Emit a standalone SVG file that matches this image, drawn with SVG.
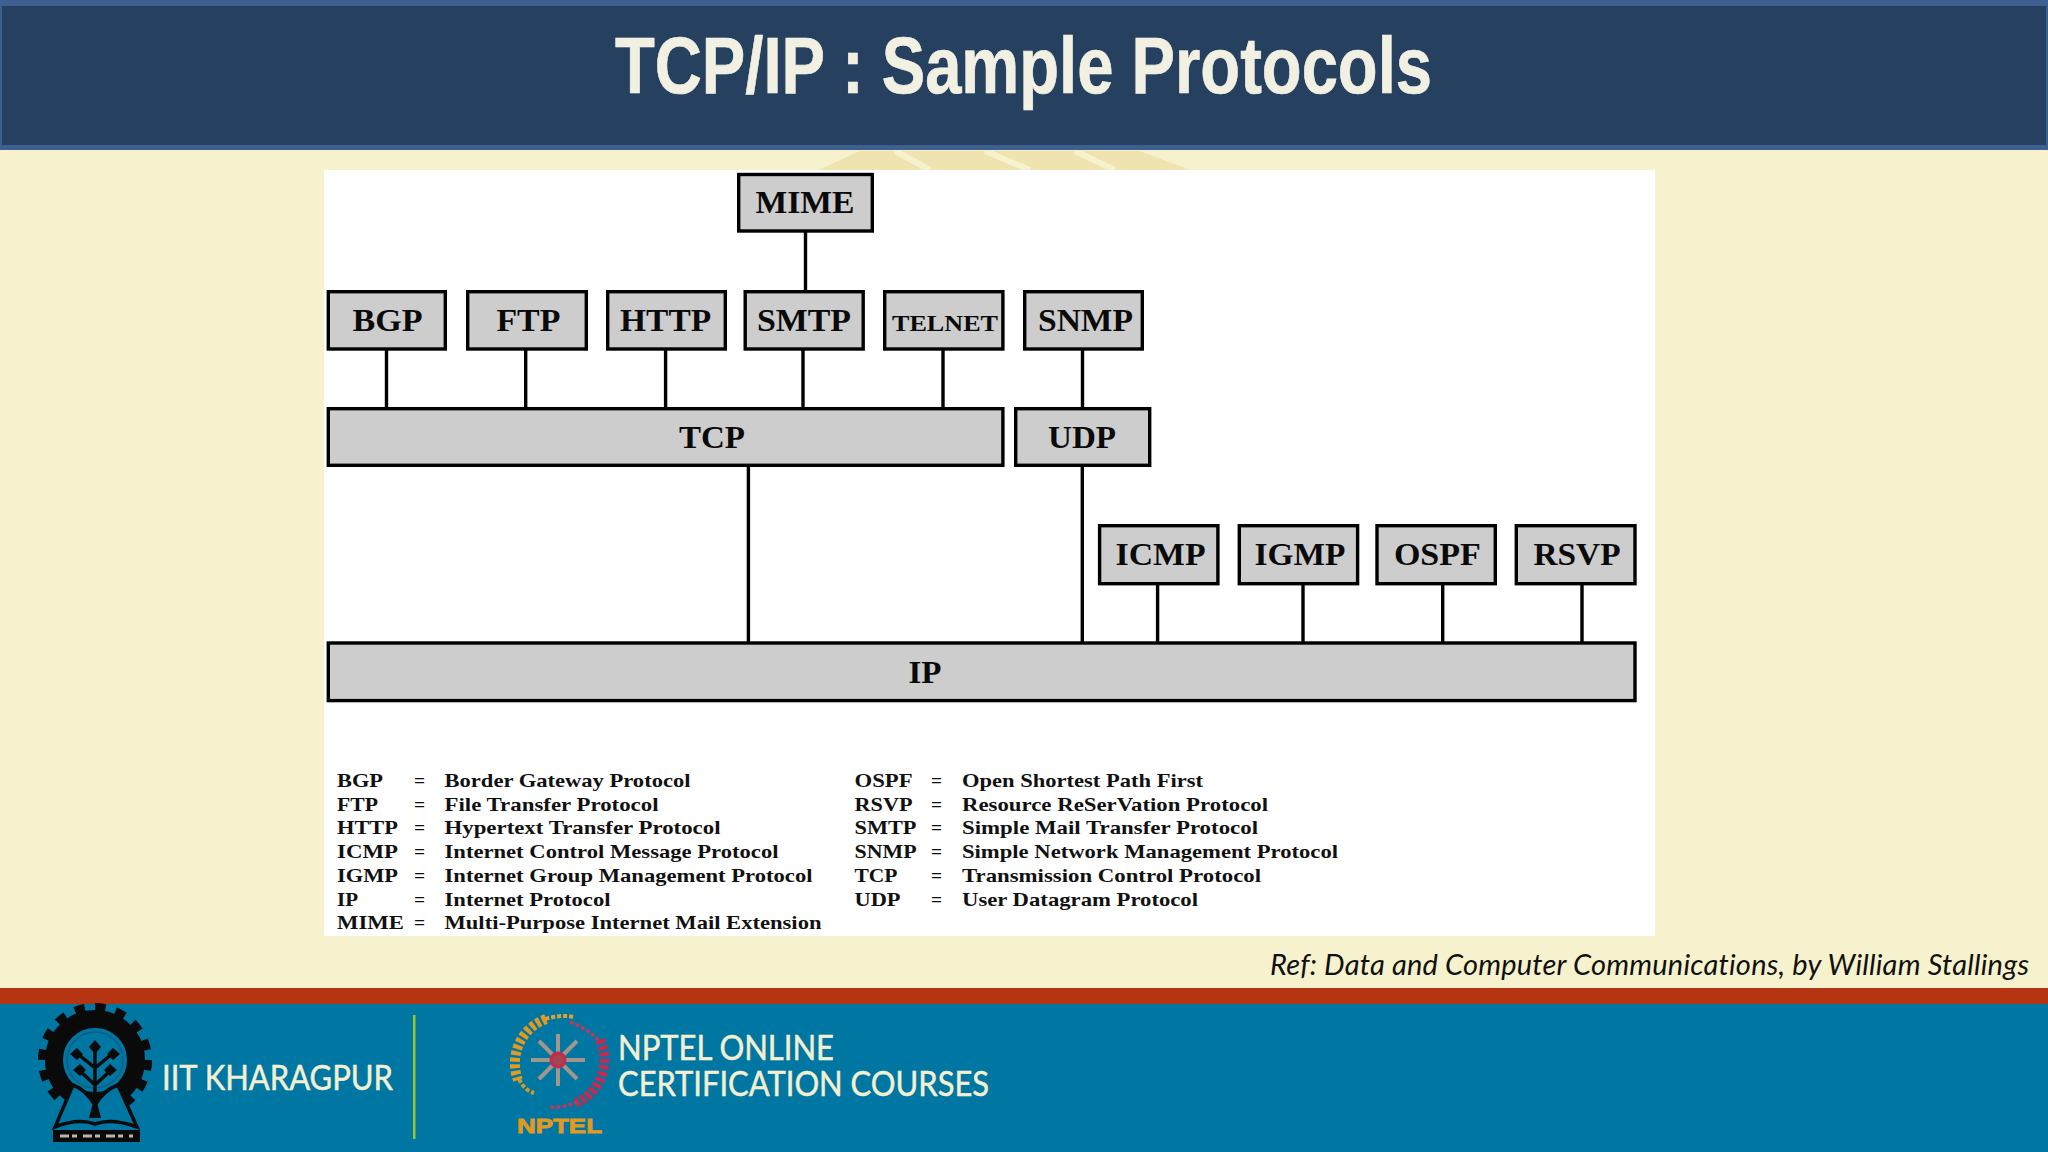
<svg xmlns="http://www.w3.org/2000/svg" width="2048" height="1152" viewBox="0 0 2048 1152">
<style>
.b{fill:#cdcdcd;stroke:#000;stroke-width:3.4}
.c{stroke:#000;stroke-width:3.4;fill:none}
.n{font-family:"Liberation Serif",serif;font-weight:700;font-size:31px;text-anchor:middle;fill:#0a0a0a}
.l{font-family:"Liberation Serif",serif;font-weight:700;font-size:19.5px;fill:#111}
.f{font-family:Lato,"Open Sans",sans-serif;font-size:35px;fill:#f3f0d2;stroke:#f3f0d2;stroke-width:.5}
</style>
<rect width="2048" height="1152" fill="#f6f2cd"/>
<g id="watermark">
<polygon points="818,170 860,151 1140,151 1190,170" fill="#efe3b0"/>
<path d="M895 151L930 170M985 151L1030 170M1075 151L1115 170" stroke="#f6f2cd" stroke-width="6" fill="none"/>
</g>
<rect width="2048" height="150" fill="#3d6090"/>
<rect x="2" y="6" width="2044" height="139" fill="#26405f"/>
<text x="615" y="93" font-family="Liberation Sans,sans-serif" font-weight="700" font-size="80" fill="#f2f0e2" stroke="#f2f0e2" stroke-width=".7" textLength="817" lengthAdjust="spacingAndGlyphs">TCP/IP : Sample Protocols</text>
<rect x="324" y="170" width="1331" height="766" fill="#fff"/>
<g id="connectors">
<path class="c" d="M805.5 232V291M386.5 350V408M525.7 350V408M665.6 350V408M803 350V408M943 350V408M1082.5 350V408M748.4 466V643M1082.3 466V643M1157.6 584V643M1303 584V643M1442.7 584V643M1582 584V643"/>
</g>
<g id="MIME"><rect class="b" x="738.7" y="174.5" width="133.6" height="56.5"/><text class="n" x="805" y="213" textLength="99" lengthAdjust="spacingAndGlyphs">MIME</text></g>
<g id="BGP"><rect class="b" x="328.3" y="291.7" width="117" height="57.3"/><text class="n" x="387.5" y="331" textLength="70" lengthAdjust="spacingAndGlyphs">BGP</text></g>
<g id="FTP"><rect class="b" x="467.7" y="291.7" width="118.6" height="57.3"/><text class="n" x="528.4" y="331" textLength="64" lengthAdjust="spacingAndGlyphs">FTP</text></g>
<g id="HTTP"><rect class="b" x="607.7" y="291.7" width="117.6" height="57.3"/><text class="n" x="665.6" y="331" textLength="91" lengthAdjust="spacingAndGlyphs">HTTP</text></g>
<g id="SMTP"><rect class="b" x="745.2" y="291.7" width="118" height="57.3"/><text class="n" x="804" y="331" textLength="94" lengthAdjust="spacingAndGlyphs">SMTP</text></g>
<g id="TELNET"><rect class="b" x="884.7" y="291.7" width="118.2" height="57.3"/><text class="n" x="945" y="331" style="font-size:24px" textLength="106" lengthAdjust="spacingAndGlyphs">TELNET</text></g>
<g id="SNMP"><rect class="b" x="1024.7" y="291.7" width="117.6" height="57.3"/><text class="n" x="1085.5" y="331" textLength="95" lengthAdjust="spacingAndGlyphs">SNMP</text></g>
<g id="TCP"><rect class="b" x="328.3" y="408.7" width="674.6" height="56.6"/><text class="n" x="712" y="448" textLength="66" lengthAdjust="spacingAndGlyphs">TCP</text></g>
<g id="UDP"><rect class="b" x="1015.7" y="408.7" width="134" height="56.6"/><text class="n" x="1082" y="448" textLength="68" lengthAdjust="spacingAndGlyphs">UDP</text></g>
<g id="ICMP"><rect class="b" x="1099.6" y="525.7" width="118.3" height="58"/><text class="n" x="1160.6" y="565" textLength="90" lengthAdjust="spacingAndGlyphs">ICMP</text></g>
<g id="IGMP"><rect class="b" x="1239.3" y="525.7" width="118.3" height="58"/><text class="n" x="1300" y="565" textLength="91" lengthAdjust="spacingAndGlyphs">IGMP</text></g>
<g id="OSPF"><rect class="b" x="1377" y="525.7" width="118.3" height="58"/><text class="n" x="1437.4" y="565" textLength="87" lengthAdjust="spacingAndGlyphs">OSPF</text></g>
<g id="RSVP"><rect class="b" x="1516.3" y="525.7" width="118.7" height="58"/><text class="n" x="1577" y="565" textLength="87" lengthAdjust="spacingAndGlyphs">RSVP</text></g>
<g id="IP"><rect class="b" x="328.3" y="643" width="1306.7" height="57.6"/><text class="n" x="925" y="683" textLength="33" lengthAdjust="spacingAndGlyphs">IP</text></g>
<g id="legend">
<text class="l" x="337" y="787" textLength="46" lengthAdjust="spacingAndGlyphs">BGP</text><text class="l" x="414" y="787">=</text><text class="l" x="444.5" y="787" textLength="246" lengthAdjust="spacingAndGlyphs">Border Gateway Protocol</text>
<text class="l" x="337" y="810.5" textLength="41" lengthAdjust="spacingAndGlyphs">FTP</text><text class="l" x="414" y="810.5">=</text><text class="l" x="444.5" y="810.5" textLength="214" lengthAdjust="spacingAndGlyphs">File Transfer Protocol</text>
<text class="l" x="337" y="834" textLength="61" lengthAdjust="spacingAndGlyphs">HTTP</text><text class="l" x="414" y="834">=</text><text class="l" x="444.5" y="834" textLength="276" lengthAdjust="spacingAndGlyphs">Hypertext Transfer Protocol</text>
<text class="l" x="337" y="858" textLength="61" lengthAdjust="spacingAndGlyphs">ICMP</text><text class="l" x="414" y="858">=</text><text class="l" x="444.5" y="858" textLength="334" lengthAdjust="spacingAndGlyphs">Internet Control Message Protocol</text>
<text class="l" x="337" y="882" textLength="61" lengthAdjust="spacingAndGlyphs">IGMP</text><text class="l" x="414" y="882">=</text><text class="l" x="444.5" y="882" textLength="368" lengthAdjust="spacingAndGlyphs">Internet Group Management Protocol</text>
<text class="l" x="337" y="905.5" textLength="21" lengthAdjust="spacingAndGlyphs">IP</text><text class="l" x="414" y="905.5">=</text><text class="l" x="444.5" y="905.5" textLength="166" lengthAdjust="spacingAndGlyphs">Internet Protocol</text>
<text class="l" x="337" y="929" textLength="67" lengthAdjust="spacingAndGlyphs">MIME</text><text class="l" x="414" y="929">=</text><text class="l" x="444.5" y="929" textLength="377" lengthAdjust="spacingAndGlyphs">Multi-Purpose Internet Mail Extension</text>
<text class="l" x="854.5" y="787" textLength="58" lengthAdjust="spacingAndGlyphs">OSPF</text><text class="l" x="931" y="787">=</text><text class="l" x="962" y="787" textLength="241" lengthAdjust="spacingAndGlyphs">Open Shortest Path First</text>
<text class="l" x="854.5" y="810.5" textLength="58" lengthAdjust="spacingAndGlyphs">RSVP</text><text class="l" x="931" y="810.5">=</text><text class="l" x="962" y="810.5" textLength="306" lengthAdjust="spacingAndGlyphs">Resource ReSerVation Protocol</text>
<text class="l" x="854.5" y="834" textLength="62" lengthAdjust="spacingAndGlyphs">SMTP</text><text class="l" x="931" y="834">=</text><text class="l" x="962" y="834" textLength="296" lengthAdjust="spacingAndGlyphs">Simple Mail Transfer Protocol</text>
<text class="l" x="854.5" y="858" textLength="62" lengthAdjust="spacingAndGlyphs">SNMP</text><text class="l" x="931" y="858">=</text><text class="l" x="962" y="858" textLength="376" lengthAdjust="spacingAndGlyphs">Simple Network Management Protocol</text>
<text class="l" x="854.5" y="882" textLength="43" lengthAdjust="spacingAndGlyphs">TCP</text><text class="l" x="931" y="882">=</text><text class="l" x="962" y="882" textLength="299" lengthAdjust="spacingAndGlyphs">Transmission Control Protocol</text>
<text class="l" x="854.5" y="905.5" textLength="46" lengthAdjust="spacingAndGlyphs">UDP</text><text class="l" x="931" y="905.5">=</text><text class="l" x="962" y="905.5" textLength="236" lengthAdjust="spacingAndGlyphs">User Datagram Protocol</text>
</g>
<text x="1270" y="975" font-family="Lato,sans-serif" font-style="italic" font-size="29" fill="#111" textLength="759" lengthAdjust="spacing" style="font-variant-ligatures:none">Ref: Data and Computer Communications, by William Stallings</text>
<rect y="988" width="2048" height="16" fill="#b53412"/>
<rect y="1004" width="2048" height="148" fill="#0076a3"/>
<rect x="413" y="1015" width="2.5" height="124" fill="#9ac52a"/>
<text class="f" x="162" y="1090" textLength="231" lengthAdjust="spacingAndGlyphs">IIT KHARAGPUR</text>
<text class="f" x="618" y="1060" textLength="216" lengthAdjust="spacingAndGlyphs">NPTEL ONLINE</text>
<text class="f" x="618" y="1096" textLength="371" lengthAdjust="spacingAndGlyphs">CERTIFICATION COURSES</text>
<text x="517" y="1133" font-family="Liberation Sans,sans-serif" font-weight="700" font-size="21" fill="#e09a1f" stroke="#e09a1f" stroke-width=".8" textLength="85" lengthAdjust="spacingAndGlyphs">NPTEL</text>
<g id="iit-logo" fill="none" stroke="#0a0a0a">
<circle cx="95" cy="1060" r="52.5" stroke-width="9" stroke-dasharray="10.3 10.3"/>
<circle cx="95" cy="1060" r="41" stroke-width="18"/>
<circle cx="95" cy="1060" r="28" stroke="#0a5f85" stroke-width="1.5"/>
<path d="M73 1085L55 1127Q78 1118 95 1124Q112 1118 137 1127L118 1085Q104 1090 95 1105Q86 1090 73 1085Z" fill="#0076a3" stroke-width="3.5"/>
<path d="M95 1118V1048M95 1085L79 1070M95 1085L111 1070M95 1068L78 1054M95 1068L112 1054" stroke-width="3.5"/>
<path d="M89 1118L95 1095L101 1118Z" fill="#0a0a0a" stroke="none"/>
<path d="M95 1040l6 7l-6 7l-6-7zM77 1048l6 6l-6 6l-7-6zM113 1048l7 6l-7 6l-6-6zM80 1064l6 6l-6 6l-7-6zM110 1064l7 6l-7 6l-6-6z" fill="#0a0a0a" stroke="none"/>
<rect x="53" y="1130" width="87" height="12" fill="#0a0a0a" stroke="none"/>
<path d="M60 1136H133" stroke="#b8b8a8" stroke-width="3" stroke-dasharray="9 3 5 6"/>
</g>
<g id="nptel-logo" fill="none">
<path d="M573 1017Q560 1014 542 1020" stroke="#d9a23a" stroke-width="4" stroke-dasharray="4 2"/>
<path d="M546 1019A47 47 0 0 0 518 1080" stroke="#e39a1e" stroke-width="10" stroke-dasharray="4 2.5"/>
<path d="M519 1079Q524 1090 534 1093" stroke="#c99a30" stroke-width="4" stroke-dasharray="4 2"/>
<path d="M570 1022Q590 1030 600 1042" stroke="#b83a5c" stroke-width="3.5" stroke-dasharray="4 2"/>
<path d="M600 1040A47 47 0 0 1 576 1103" stroke="#c8284f" stroke-width="10" stroke-dasharray="4 2.5"/>
<path d="M578 1102Q562 1108 550 1107" stroke="#b83a5c" stroke-width="3.5" stroke-dasharray="4 2"/>
<path d="M558 1034V1086M531 1060H585M539 1041L577 1079M577 1041L539 1079" stroke="#a1968c" stroke-width="4"/>
<circle cx="558" cy="1060" r="7" stroke="#c8284f" stroke-width="3" fill="#a1464f"/>
</g>
</svg>
